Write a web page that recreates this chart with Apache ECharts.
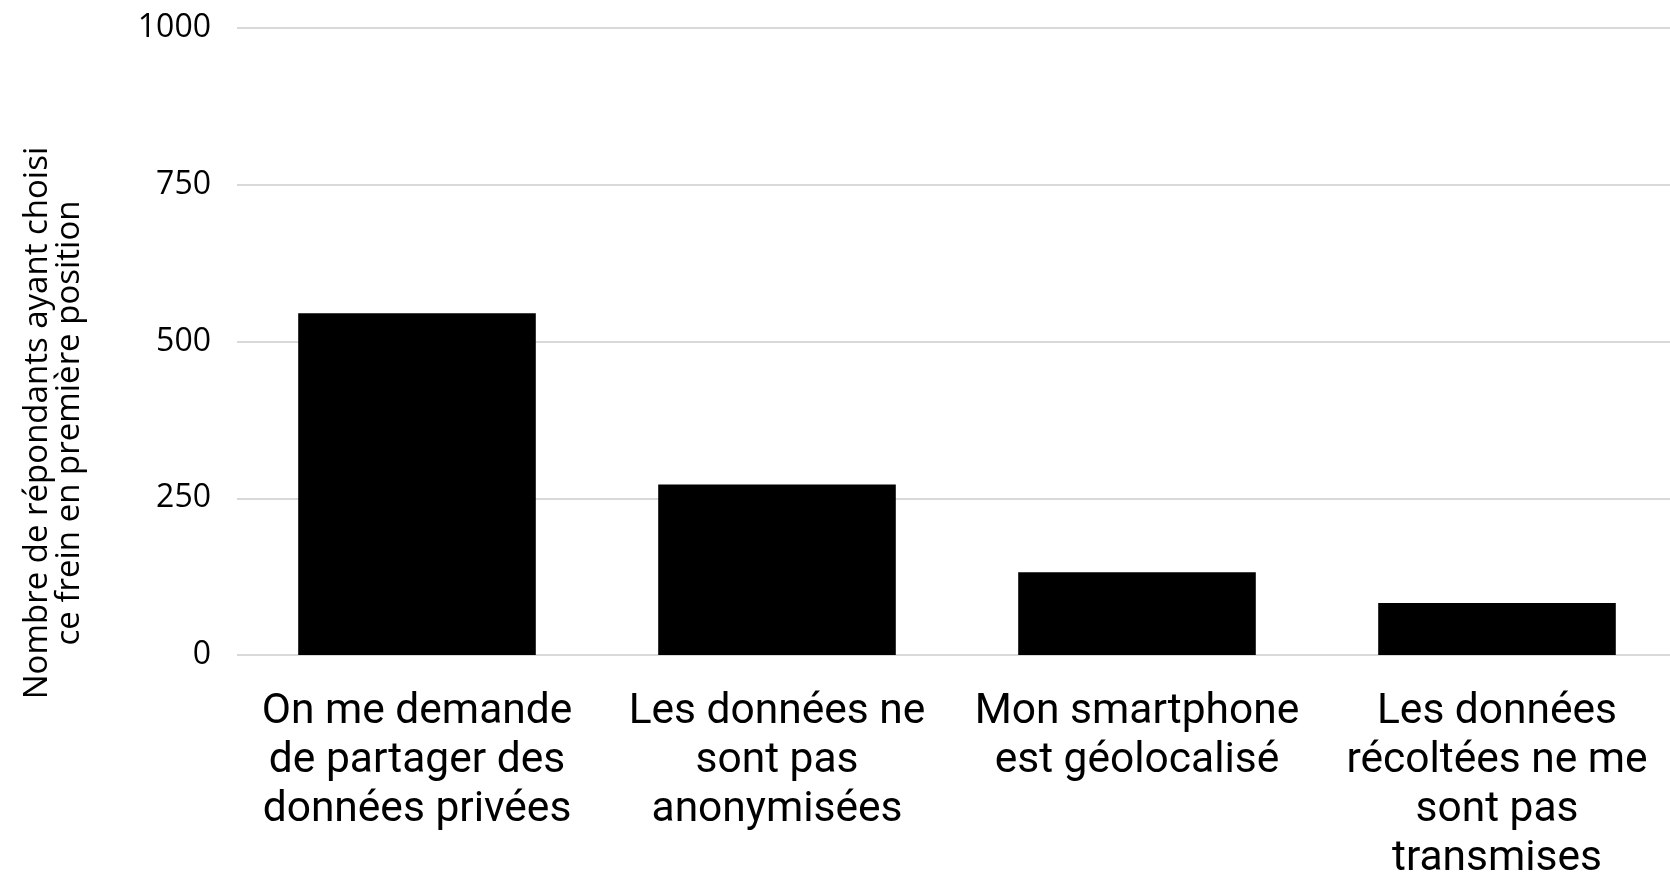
<!DOCTYPE html>
<html>
<head>
<meta charset="utf-8">
<script src="https://cdn.jsdelivr.net/npm/echarts@6/dist/echarts.min.js"></script>
<style>
  html, body { margin: 0; padding: 0; background: #fff; }
  #chart { width: 1670px; height: 877px; }
</style>
</head>
<body>
<div id="chart"></div>
<script>
// catégories (retours à la ligne comme dans l'original)
var categories = [
  'On me demande\nde partager des\ndonnées privées',
  'Les données ne\nsont pas\nanonymisées',
  'Mon smartphone\nest géolocalisé',
  'Les données\nrécoltées ne me\nsont pas\ntransmises'
]
var values = [545, 272, 132, 83]
var yTicks = [0, 250, 500, 750, 1000]
var yTitle = 'Nombre de répondants ayant choisi\nce frein en première position'

var chart = echarts.init(document.getElementById('chart'))
chart.setOption({
  animation: false,
  grid: {
    left: 237,
    top: 28,
    width: 1440,
    bottom: 222,
    outerBoundsMode: 'none'
  },
  xAxis: {
    type: 'category',
    data: categories,
    axisLine: { show: false },
    axisTick: { show: false },
    axisLabel: {
      color: '#000',
      fontFamily: 'Roboto',
      fontSize: 42.5,
      lineHeight: 49,
      margin: 33,
      interval: 0
    }
  },
  yAxis: {
    type: 'value',
    min: yTicks[0],
    max: yTicks[yTicks.length - 1],
    interval: 250,
    axisLine: { show: false },
    axisTick: { show: false },
    axisLabel: {
      color: '#000',
      fontFamily: 'Open Sans',
      fontSize: 32,
      margin: 26,
      formatter: function (val) {
        return val + ''
      }
    },
    splitLine: {
      show: true,
      lineStyle: { color: '#d9d9d9', width: 2 }
    }
  },
  graphic: [
    {
      type: 'text',
      x: 54,
      y: 423,
      rotation: Math.PI / 2,
      style: {
        text: yTitle,
        fill: '#000',
        font: '33px "Open Sans"',
        lineHeight: 32,
        align: 'center',
        verticalAlign: 'middle'
      }
    }
  ],
  series: [
    {
      type: 'bar',
      data: values,
      barCategoryGap: '34%',
      itemStyle: { color: '#000' }
    }
  ]
})
</script>
</body>
</html>
